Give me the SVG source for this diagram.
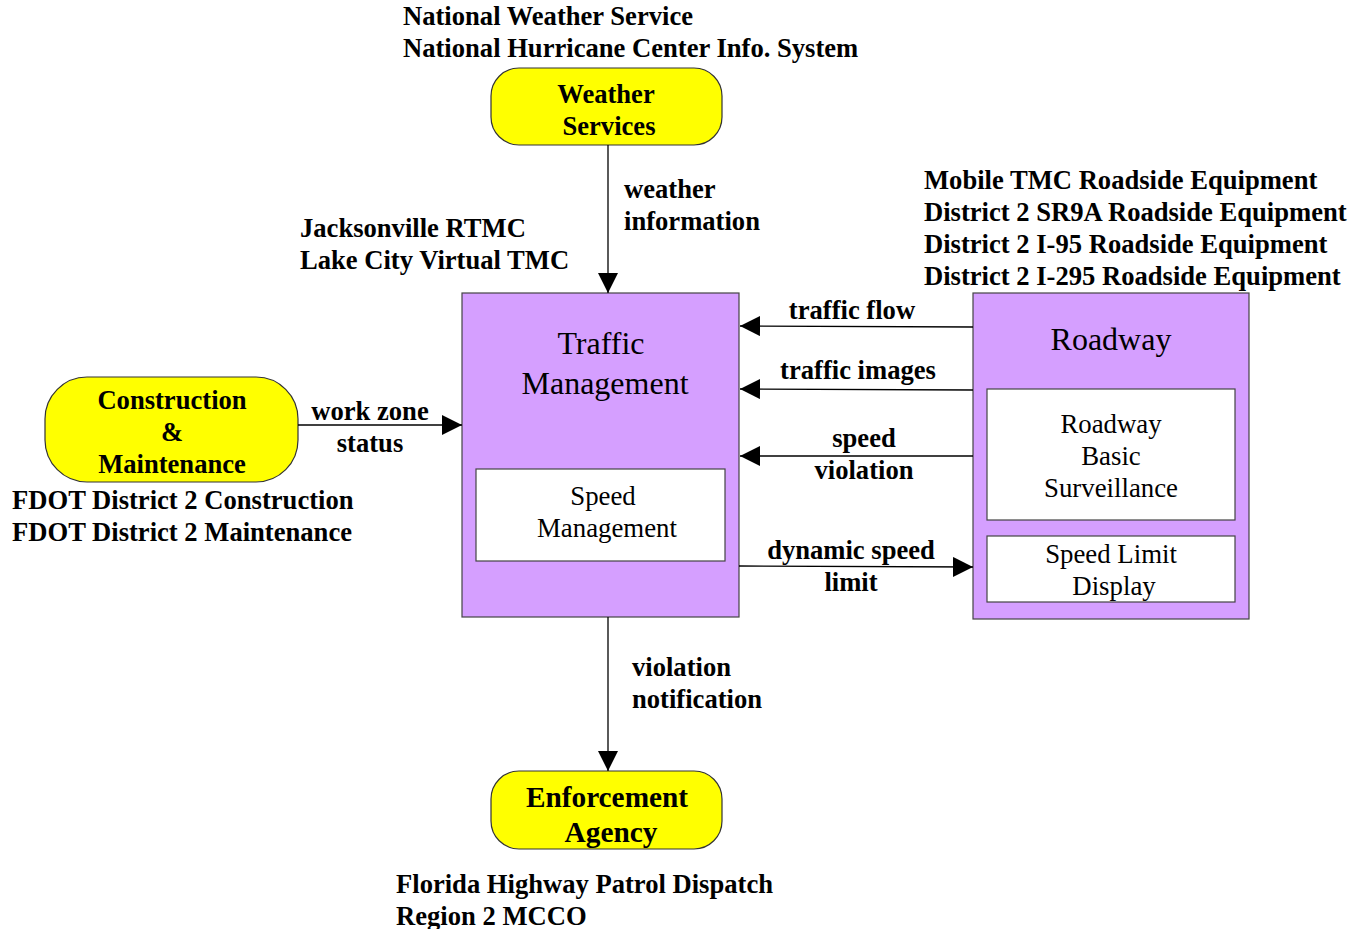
<svg xmlns="http://www.w3.org/2000/svg" width="1358" height="929" viewBox="0 0 1358 929">
<defs>
<marker id="arr" viewBox="0 0 20 20" refX="20" refY="10" markerWidth="20" markerHeight="20" markerUnits="userSpaceOnUse" orient="auto">
<path d="M0,0 L20,10 L0,20 Z" fill="#000"/>
</marker>
<style>
.t{font-family:"Liberation Serif","Times New Roman",serif;fill:#000}
.b{font-weight:bold;font-size:26.6px}
.term{fill:#FFFF00;stroke:#333;stroke-width:1.2}
.sys{fill:#D59FFF;stroke:#444;stroke-width:1.2}
.sub{fill:#fff;stroke:#444;stroke-width:1.2}
.big{font-size:32px}
.med{font-size:26.8px}
.c{text-anchor:middle}
.ln{stroke:#000;stroke-width:1.3;fill:none;marker-end:url(#arr)}
</style>
</defs>
<rect width="1358" height="929" fill="#fff"/>

<g id="weather">
<rect class="term" x="491" y="68" width="231" height="77" rx="28"/>
<text class="t b c" x="606" y="103">Weather</text>
<text class="t b c" x="609" y="135">Services</text>
<text class="t b" x="403" y="25">National Weather Service</text>
<text class="t b" x="403" y="57">National Hurricane Center Info. System</text>
</g>

<g id="traffic-management">
<rect class="sys" x="462" y="293" width="277" height="324"/>
<text class="t big c" x="601" y="354">Traffic</text>
<text class="t big c" x="605" y="394">Management</text>
<text class="t b" x="300" y="237">Jacksonville RTMC</text>
<text class="t b" x="300" y="269">Lake City Virtual TMC</text>
<g id="speed-management">
<rect class="sub" x="476" y="469" width="249" height="92"/>
<text class="t med c" x="603" y="505">Speed</text>
<text class="t med c" x="607" y="537">Management</text>
</g>
</g>

<g id="roadway">
<rect class="sys" x="973" y="293" width="276" height="326"/>
<text class="t big c" x="1111" y="350">Roadway</text>
<text class="t b" x="924" y="189">Mobile TMC Roadside Equipment</text>
<text class="t b" x="924" y="221">District 2 SR9A Roadside Equipment</text>
<text class="t b" x="924" y="253">District 2 I-95 Roadside Equipment</text>
<text class="t b" x="924" y="285">District 2 I-295 Roadside Equipment</text>
<g id="roadway-basic-surveillance">
<rect class="sub" x="987" y="389" width="248" height="131"/>
<text class="t med c" x="1111" y="433">Roadway</text>
<text class="t med c" x="1111" y="465">Basic</text>
<text class="t med c" x="1111" y="497">Surveillance</text>
</g>
<g id="speed-limit-display">
<rect class="sub" x="987" y="536" width="248" height="66"/>
<text class="t med c" x="1111" y="563">Speed Limit</text>
<text class="t med c" x="1114" y="595">Display</text>
</g>
</g>

<g id="construction">
<rect class="term" x="45" y="377" width="253" height="105" rx="42"/>
<text class="t b c" x="172" y="409">Construction</text>
<text class="t b c" x="172" y="441">&amp;</text>
<text class="t b c" x="172" y="473">Maintenance</text>
<text class="t b" x="12" y="509">FDOT District 2 Construction</text>
<text class="t b" x="12" y="541">FDOT District 2 Maintenance</text>
</g>

<g id="enforcement">
<rect class="term" x="491" y="771" width="231" height="78" rx="28"/>
<text class="t b c" x="607" y="807" style="font-size:29.3px">Enforcement</text>
<text class="t b c" x="611" y="842" style="font-size:29.3px">Agency</text>
<text class="t b" x="396" y="893">Florida Highway Patrol Dispatch</text>
<text class="t b" x="396" y="925">Region 2 MCCO</text>
</g>

<g id="connectors">
<line class="ln" x1="608" y1="145" x2="608" y2="293"/>
<text class="t b" x="624" y="198">weather</text>
<text class="t b" x="624" y="230">information</text>

<line class="ln" x1="298" y1="425" x2="462" y2="425"/>
<text class="t b c" x="370" y="420">work zone</text>
<text class="t b c" x="370" y="452">status</text>

<line class="ln" x1="973" y1="327" x2="740" y2="326"/>
<text class="t b c" x="852" y="319">traffic flow</text>

<line class="ln" x1="973" y1="390" x2="740" y2="389"/>
<text class="t b c" x="858" y="379">traffic images</text>

<line class="ln" x1="973" y1="456" x2="740" y2="456"/>
<text class="t b c" x="864" y="447">speed</text>
<text class="t b c" x="864" y="479">violation</text>

<line class="ln" x1="739" y1="566" x2="973" y2="567"/>
<text class="t b c" x="851" y="559">dynamic speed</text>
<text class="t b c" x="851" y="591">limit</text>

<line class="ln" x1="608" y1="617" x2="608" y2="771"/>
<text class="t b" x="632" y="676">violation</text>
<text class="t b" x="632" y="708">notification</text>
</g>
</svg>
